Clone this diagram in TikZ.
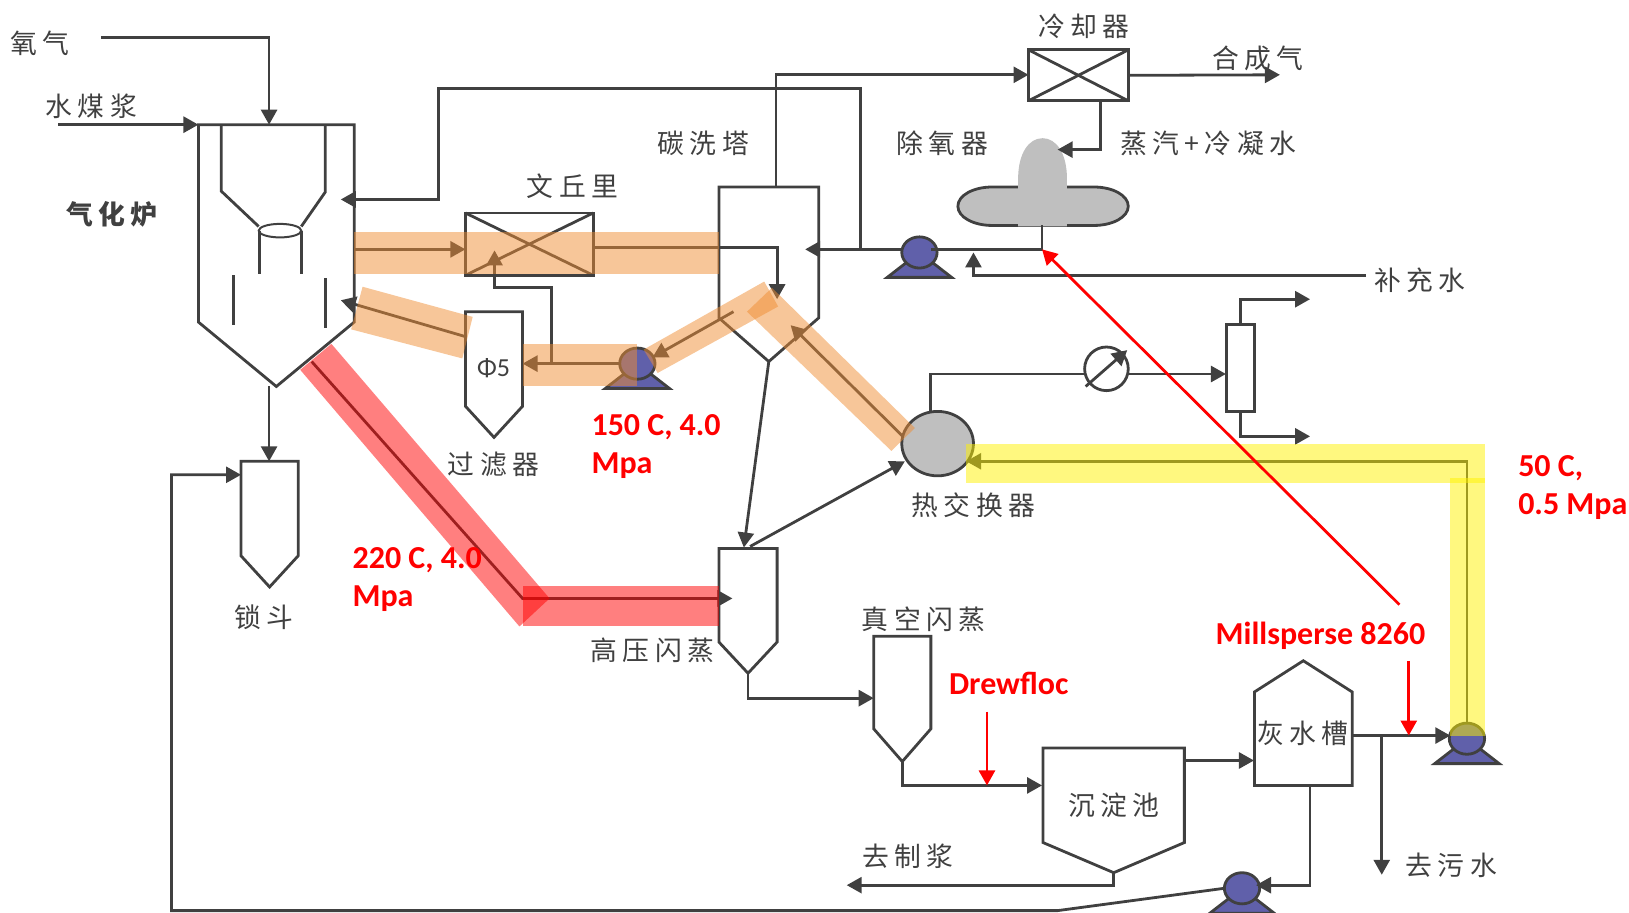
\documentclass[tikz,border=0pt]{standalone}
\usepackage{fontspec}
\setmainfont{Carlito}
\newfontfamily\cjk[LetterSpace=20]{Noto Sans CJK SC}
\usetikzlibrary{arrows.meta,shapes.geometric}
\definecolor{ink}{HTML}{404040}
\definecolor{pumpblue}{HTML}{6060AA}
\definecolor{shellgrey}{HTML}{BFBFBF}
\definecolor{bandorange}{HTML}{EF8D33}
\newcommand{\pxu}{0.5195pt}
\tikzset{
    line/.style={draw=ink, line width=1.4pt, line join=miter},
    pipe/.style={line, -{Triangle[length=7.5pt,width=8pt]}},
    dose/.style={draw=red, line width=1.4pt, -{Triangle[length=7.5pt,width=8pt]}},
    body/.style n args={2}{minimum width=#1*\pxu, minimum height=#2*\pxu, inner sep=0pt, outer sep=0pt},
    cnlabel/.style={text=ink, font=\cjk\fontsize{13.4}{16}\selectfont, inner sep=0pt},
    redlabel/.style={text=red, font=\bfseries\fontsize{16}{19}\selectfont, inner sep=0pt, anchor=west},
    orangeband/.style={fill=bandorange, fill opacity=0.5},
    redband/.style={fill=red, fill opacity=0.5},
    yellowband/.style={fill=yellow, fill opacity=0.5}
}
\begin{document}
\begin{tikzpicture}[x=\pxu, y=-\pxu]
    \useasboundingbox (0,0) rectangle (1568,878);
    \clip (0,0) rectangle (1568,878);
    % Vessels with a pointed bottom
    \foreach \nm/\x/\y/\w/\h/\tipy in {filter/475.5/345.5/55/91/421, hopper/259.5/489.5/55/91/565,
        hpflash/720/573/56/90/648, vacflash/868.5/657/55/89/733, settler/1072/765.5/136/91/840,
        gasifier/266/215/150/190/372, tower/740/243/96/126/348} {
        \node[body={\w}{\h}] (\nm) at (\x,\y) {};
        \coordinate (\nm tip) at (\x,\tipy);
        \draw[line] (\nm.south west) -- (\nm.north west) -- (\nm.north east) -- (\nm.south east) -- (\nm tip) -- cycle;
    }
    % Grey water tank
    \node[body={94}{90}] (tank) at (1254.5,711) {};
    \coordinate (tanktop) at (1254.5,636);
    \draw[line] (tank.north west) -- (tanktop) -- (tank.north east) -- (tank.south east) -- (tank.south west) -- cycle;
    % Gasifier inside
    \node[ellipse, draw=ink, line width=1pt, body={41}{13}] (throat) at (269.5,222) {};
    \draw[line] (213,121) -- (213,184) -- (249,218);
    \draw[line] (313,121) -- (313,185) -- (290,218);
    \draw[line] (249.5,222) -- (249.5,264);
    \draw[line] (290,222) -- (290,264);
    \draw[line] (225,265) -- (225,313);
    \draw[line] (313,268) -- (313,316);
    % Boxes with a cross
    \foreach \nm/\x/\y/\w/\h in {venturi/509.5/235/123/60, cooler/1038/72.5/96/49} {
        \node[draw=ink, line width=1.4pt, body={\w}{\h}] (\nm) at (\x,\y) {};
        \draw[line] (\nm.north west) -- (\nm.south east);
        \draw[line] (\nm.south west) -- (\nm.north east);
    }
    \node[draw=ink, line width=1.4pt, body={27}{84}] (column) at (1194,354) {};
    \node[circle, draw=ink, line width=1.4pt, body={42}{42}] (valve) at (1065,355) {};
    % Deaerator
    \draw[line, fill=shellgrey] (955,180) -- (1053,180) .. controls (1071,180) and (1086,188) .. (1086,198.5)
        .. controls (1086,209) and (1071,217) .. (1053,217) -- (955,217)
        .. controls (937,217) and (922,209) .. (922,198.5) .. controls (922,188) and (937,180) .. (955,180) -- cycle;
    \fill[shellgrey] (980,218) -- (980,172) .. controls (980,148) and (990,133) .. (1003.5,133)
        .. controls (1017,133) and (1027,148) .. (1027,172) -- (1027,218) -- cycle;
    \coordinate (deaerbottom) at (1003,217);
    \coordinate (deaertop) at (1018,144);
    % Heat exchanger
    \node[ellipse, draw=ink, fill=shellgrey, line width=1.4pt, body={69}{62}] (hx) at (902.5,427) {};
    % Pumps
    \foreach \nm/\x/\y in {pumpa/613.5/350, pumpb/885/243, pumpc/1412/711, pumpd/1195.5/855} {
        \draw[line, fill=pumpblue] (\x-31,\y+24) -- (\x+31,\y+24) -- (\x,\y) -- cycle;
        \node[ellipse, draw=ink, fill=pumpblue, line width=1.4pt, body={34}{30}] (\nm) at (\x,\y) {};
    }
    % Ports
    \coordinate (oxin) at (97,36);
    \coordinate (oxport) at (259,120);
    \coordinate (slurryin) at (56,120);
    \coordinate (retjoin) at (828,240);
    \coordinate (retcorner) at (422,85);
    \coordinate (gasin) at (328,192);
    \coordinate (gasout) at (341,240);
    \coordinate (venout) at (571,238);
    \coordinate (washin) at (748,288);
    \coordinate (washjoin) at (531,348);
    \coordinate (vencorner) at (476,277);
    \coordinate (venin) at (476,241);
    \coordinate (filterout) at (448,324);
    \coordinate (gasback) at (328,289);
    \coordinate (washout) at (706,300);
    \coordinate (pumpain) at (628,344);
    \coordinate (hxout) at (869,420);
    \coordinate (washback) at (761,313);
    \coordinate (flashin) at (716,527);
    \coordinate (flashout) at (722,526);
    \coordinate (hxin) at (871,444);
    \coordinate (hxtop) at (896,396);
    \coordinate (valvein) at (1044,360);
    \coordinate (valveout) at (1086,360);
    \coordinate (valvea) at (1045,372);
    \coordinate (valveb) at (1085,337);
    \coordinate (columnin) at (1180,360);
    \coordinate (columnup) at (1261,288);
    \coordinate (columndown) at (1261,420);
    \coordinate (washtop) at (747,180);
    \coordinate (coolerin) at (990,72);
    \coordinate (syngas) at (1232,72);
    \coordinate (coolerdown) at (1059,97);
    \coordinate (deaerline) at (1003,240);
    \coordinate (pumpbstub) at (896,240);
    \coordinate (towerin) at (775,240);
    \coordinate (makeup) at (1315,265);
    \coordinate (makeupin) at (937,243);
    \coordinate (hopperin) at (259,372);
    \coordinate (hopperside) at (232,457);
    \coordinate (lowcorner) at (1018,876.5);
    \coordinate (hotstart) at (300,348);
    \coordinate (hotbend) at (503,576);
    \coordinate (hotend) at (705,576);
    \coordinate (yellowend) at (930,444);
    \coordinate (vacin) at (841,672);
    \coordinate (settlerin) at (1003,756);
    \coordinate (settlerout) at (1140,732);
    \coordinate (tankin) at (1207,732);
    \coordinate (tankout) at (1302,708);
    \coordinate (pumpcin) at (1396,708);
    \coordinate (drainjoin) at (1330,708);
    \coordinate (drain) at (1330,842);
    \coordinate (slurryout) at (815,852);
    \coordinate (tankdown) at (1261,756);
    \coordinate (pumpdin) at (1209,852);
    % Edges
    \draw[pipe] (oxin) -| (oxport);
    \draw[pipe] (slurryin) -- (gasifier.north west);
    \draw[pipe] (retjoin) |- (retcorner) |- (gasin);
    \draw[pipe] (gasout) -- (gasout -| venturi.west);
    \draw[pipe] (venout) -| (washin);
    \draw[pipe] (washjoin) |- (vencorner) -- (venin);
    \draw[pipe] (pumpa.west) -- (pumpa.west -| filter.east);
    \draw[pipe] (filterout) -- (gasback);
    \draw[pipe] (washout) -- (pumpain);
    \draw[pipe] (hxout) -- (washback);
    \draw[pipe] (towertip) -- (flashin);
    \draw[pipe] (flashout) -- (hxin);
    \draw[line] (hxtop) |- (valvein);
    \draw[pipe] (valveout) -- (columnin);
    \draw[pipe] (valvea) -- (valveb);
    \draw[pipe] (column.north) |- (columnup);
    \draw[pipe] (column.south) |- (columndown);
    \draw[pipe] (washtop) |- (coolerin);
    \draw[pipe] (cooler.east) -- (syngas);
    \draw[pipe] (coolerdown) |- (deaertop);
    \draw[line] (deaerbottom) |- (pumpbstub);
    \draw[pipe] (pumpb.west |- deaerline) -- (towerin);
    \draw[pipe] (makeup) -| (makeupin);
    \draw[pipe] (hopperin) -- (hopper.north -| hopperin);
    \draw[pipe] (pumpd.west) -- (lowcorner) -| (165,457) -- (hopperside);
    \draw[pipe] (hotstart) -- (hotbend) -- (hotend);
    \draw[pipe] (pumpc.north) |- (yellowend);
    \draw[pipe] (hpflashtip) |- (vacin);
    \draw[pipe] (vacflashtip) |- (settlerin);
    \draw[pipe] (settlerout) -- (tankin);
    \draw[pipe] (tankout) -- (pumpcin);
    \draw[pipe] (drainjoin) -- (drain);
    \draw[pipe] (settlertip) |- (slurryout);
    \draw[pipe] (tankdown) |- (pumpdin);
    % Highlight bands
    \fill[orangeband] (341,223) rectangle (692,264);
    \fill[orangeband] (349,276) -- (455,305) -- (445,345) -- (338,317) -- cycle;
    \fill[orangeband] (503,331) rectangle (613.5,372);
    \fill[orangeband] (619.5,336.5) -- (735.6,271) -- (749,295) -- (633,359) -- cycle;
    \fill[orangeband] (719,300) -- (743,277) -- (880.6,412) -- (858,434) -- cycle;
    \fill[redband] (319,331) -- (529,576) -- (500,603) -- (289,356) -- cycle;
    \fill[redband] (503,564) rectangle (692,603);
    \fill[yellowband] (930,427) -- (1429,427) -- (1429,465) -- (930,465) -- cycle;
    \fill[yellowband] (1396,460) rectangle (1429,708);
    % Dosing lines
    \coordinate (millstart) at (1347,582);
    \coordinate (millport) at (1356,708);
    \coordinate (millin) at (1356,636);
    \coordinate (drewin) at (950,685);
    \coordinate (drewport) at (950,756);
    \draw[dose] (millstart) -- (deaerline);
    \draw[dose] (millin) -- (millport);
    \draw[dose] (drewin) -- (drewport);
    % Labels
    \node[cnlabel] (lboxygen) at (38,42) {氧气};
    \node[cnlabel] (lbslurry) at (88,102) {水煤浆};
    \node[cnlabel, font=\cjk\bfseries\fontsize{13.4}{16}\selectfont] (lbgasifier) at (108,206) {气化炉};
    \node[cnlabel] (lbventuri) at (551,179) {文丘里};
    \node[cnlabel] (lbtower) at (677,138) {碳洗塔};
    \node[cnlabel] (lbdeaer) at (907,138) {除氧器};
    \node[cnlabel] (lbcooler) at (1043,25) {冷却器};
    \node[cnlabel] (lbsyngas) at (1211,56) {合成气};
    \node[cnlabel] (lbsteam) at (1163,138) {蒸汽+冷凝水};
    \node[cnlabel] (lbmakeup) at (1367,270) {补充水};
    \node[cnlabel] (lbfilter) at (475,447) {过滤器};
    \node[cnlabel] (lbhx) at (937,486) {热交换器};
    \node[cnlabel] (lbvac) at (889,596) {真空闪蒸};
    \node[cnlabel] (lbhp) at (628,626) {高压闪蒸};
    \node[cnlabel] (lbhopper) at (254,594) {锁斗};
    \node[cnlabel] (lbsettler) at (1072,775) {沉淀池};
    \node[cnlabel] (lbtank) at (1254,706) {灰水槽};
    \node[cnlabel] (lbslurryout) at (874,824) {去制浆};
    \node[cnlabel] (lbdrain) at (1397,833) {去污水};
    \node[text=ink, font=\fontsize{13}{15}\selectfont, inner sep=0pt] (lbphi) at (475,354) {Φ5};
    \node[redlabel] (tempa) at (569,411) {150 C, 4.0};
    \node[redlabel] (pressa) at (569,448) {Mpa};
    \node[redlabel] (tempb) at (339,539) {220 C, 4.0};
    \node[redlabel] (pressb) at (339,576) {Mpa};
    \node[redlabel] (tempc) at (1461,451) {50 C,};
    \node[redlabel] (pressc) at (1461,488) {0.5 Mpa};
    \node[redlabel, anchor=center] (lbmills) at (1271,612) {Millsperse 8260};
    \node[redlabel, anchor=center] (lbdrew) at (971,658) {Drewfloc};
\end{tikzpicture}
\end{document}
